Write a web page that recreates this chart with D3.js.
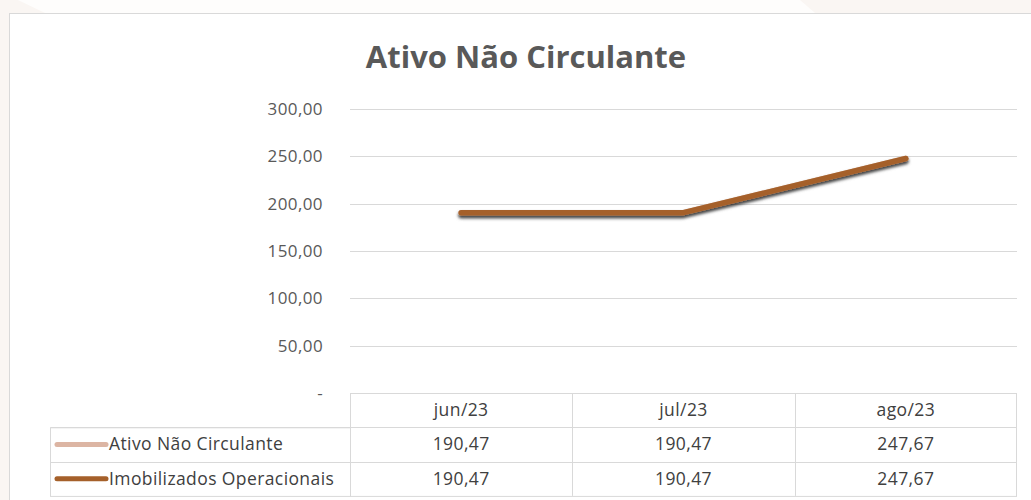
<!DOCTYPE html>
<html>
<head>
<meta charset="utf-8">
<script src="https://cdn.jsdelivr.net/npm/d3@7/dist/d3.min.js"></script>
<style>
  body { margin: 0; background: #faf6f3; }
  text { font-family: "Open Sans", "Noto Sans", sans-serif; }
</style>
</head>
<body>
<div id="chart"></div>
<script>
// dados
const months = ["jun/23", "jul/23", "ago/23"];
const seriesNames = ["Ativo Não Circulante", "Imobilizados Operacionais"];
const ativoNaoCirculante = [190.47, 190.47, 247.67];
const imobilizados = [190.47, 190.47, 247.67];
const yTicks = [0, 50, 100, 150, 200, 250, 300];
const colors = ["#dcb5a3", "#a5602a"];

const W = 1031, H = 500;
const fmt = v => v === 0 ? "-" : v.toFixed(2).replace(".", ",");

const svg = d3.select("#chart").append("svg")
  .attr("width", W).attr("height", H);

// fundo
svg.append("rect").attr("width", W).attr("height", H).attr("fill", "#faf6f3");
svg.append("path").attr("d", "M18,0 L800,0 L815,13 L45,13 Z").attr("fill", "#fefdfc");

// caixa do grafico
svg.append("rect")
  .attr("x", 9.5).attr("y", 13.5)
  .attr("width", 1030).attr("height", 500)
  .attr("fill", "#fff").attr("stroke", "#d9d9d9");

svg.append("text")
  .attr("x", 526).attr("y", 68)
  .attr("text-anchor", "middle")
  .attr("font-size", 31).attr("font-weight", "bold")
  .attr("fill", "#595959")
  .text("Ativo Não Circulante");

const x = d3.scaleBand().domain(months).range([350, 1017]);
const y = d3.scaleLinear().domain([0, 300]).range([393, 109]);

// grade
svg.append("g").selectAll("line").data(yTicks.filter(d => d > 0)).join("line")
  .attr("x1", 350).attr("x2", 1017)
  .attr("y1", d => Math.round(y(d)) + 0.5).attr("y2", d => Math.round(y(d)) + 0.5)
  .attr("stroke", "#d9d9d9").attr("stroke-width", 1);

const yAxis = d3.axisLeft(y).tickValues(yTicks).tickFormat(fmt).tickSize(0).tickPadding(0);
const gy = svg.append("g").attr("transform", "translate(323,0)").call(yAxis);
gy.select(".domain").remove();
gy.selectAll("text").attr("font-size", 17).attr("fill", "#595959")
  .attr("letter-spacing", 0.4)
  .attr("font-family", "'Open Sans', sans-serif");

// linhas
const defs = svg.append("defs");
const f = defs.append("filter").attr("id", "sh").attr("x", "-10%").attr("y", "-50%")
  .attr("width", "120%").attr("height", "200%");
f.append("feDropShadow").attr("dx", 0).attr("dy", 2.5).attr("stdDeviation", 1.8)
  .attr("flood-color", "#000").attr("flood-opacity", 0.5);

const line = d3.line().x((d, i) => x(months[i]) + x.bandwidth() / 2).y(d => y(d));
[ativoNaoCirculante, imobilizados].forEach((s, k) => {
  svg.append("path").datum(s)
    .attr("d", line)
    .attr("fill", "none")
    .attr("stroke", colors[k])
    .attr("stroke-width", 5.5)
    .attr("stroke-linecap", "round")
    .attr("stroke-linejoin", "round")
    .attr("filter", "url(#sh)");
});

// tabela de dados
const rowTop = 393, rowH = 34.3;
const tbl = svg.append("g").attr("stroke", "#d9d9d9").attr("fill", "none");
tbl.append("rect").attr("x", 350.5).attr("y", rowTop + 0.5)
  .attr("width", 666).attr("height", rowH * 3);
tbl.append("rect").attr("x", 50.5).attr("y", rowTop + rowH + 0.5)
  .attr("width", 300).attr("height", rowH * 2);
[1, 2].forEach(r => tbl.append("line")
  .attr("x1", 50.5).attr("x2", 1016.5)
  .attr("y1", Math.round(rowTop + rowH * r) + 0.5).attr("y2", Math.round(rowTop + rowH * r) + 0.5));
months.slice(1).forEach(m => tbl.append("line")
  .attr("x1", Math.round(x(m)) + 0.5).attr("x2", Math.round(x(m)) + 0.5)
  .attr("y1", rowTop).attr("y2", rowTop + rowH * 3));

const txt = svg.append("g").attr("font-size", 17.5).attr("letter-spacing", 0.4).attr("fill", "#404040");
txt.selectAll(".mh").data(months).join("text")
  .attr("x", d => x(d) + x.bandwidth() / 2).attr("y", rowTop + rowH / 2 + 6)
  .attr("text-anchor", "middle").text(d => d);

[ativoNaoCirculante, imobilizados].forEach((s, k) => {
  const cy = rowTop + rowH * (k + 1) + rowH / 2;
  txt.selectAll(".v" + k).data(s).join("text")
    .attr("x", (d, i) => x(months[i]) + x.bandwidth() / 2).attr("y", cy + 6)
    .attr("text-anchor", "middle").text(d => fmt(d));
  svg.append("line").attr("x1", 57).attr("x2", 106).attr("y1", cy).attr("y2", cy)
    .attr("stroke", colors[k]).attr("stroke-width", 5).attr("stroke-linecap", "round");
  txt.append("text").attr("x", 109).attr("y", cy + 6).text(seriesNames[k]);
});
</script>
</body>
</html>
